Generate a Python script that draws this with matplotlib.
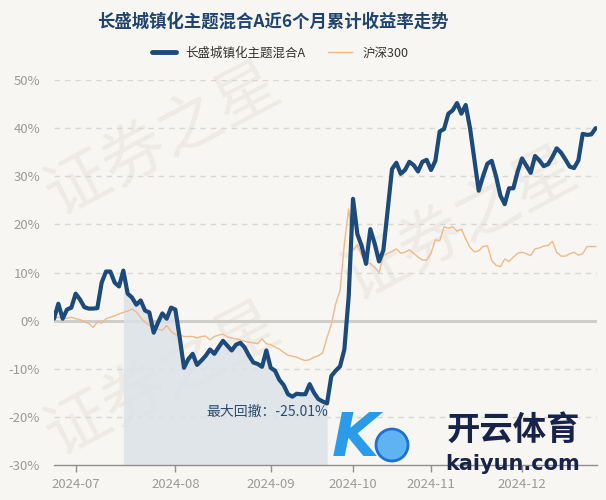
import matplotlib
matplotlib.use("Agg")
import matplotlib.pyplot as plt
import numpy as np
import pandas as pd
from matplotlib.patches import Circle

plt.rcParams['font.family'] = ['Noto Sans CJK SC', 'DejaVu Sans']

title = "长盛城镇化主题混合A近6个月累计收益率走势"
fund_name = "长盛城镇化主题混合A"
index_name = "沪深300"
drawdown_label = "最大回撤：-25.01%"
month_labels = ["2024-07", "2024-08", "2024-09", "2024-10", "2024-11", "2024-12"]
y_ticks = [-30, -20, -10, 0, 10, 20, 30, 40, 50]

holidays = ["2024-09-16", "2024-09-17", "2024-10-01", "2024-10-02", "2024-10-03",
            "2024-10-04", "2024-10-07"]

fund = [0.4, 3.5, 0.4, 2.3, 2.7, 5.6, 4.4, 2.8, 2.5, 2.5,
        2.6, 7.9, 10.2, 10.2, 7.9, 7.1, 10.4, 5.6, 4.8, 3.3,
        4.2, 2.1, 1.7, -2.5, -0.4, 1.5, 0.4, 2.7, 2.3, -3.5,
        -9.8, -8.0, -6.9, -9.2, -8.3, -7.3, -6.0, -6.9, -5.5, -4.2,
        -5.2, -6.2, -5.0, -4.6, -5.6, -7.3, -8.7, -9.0, -9.6, -6.2,
        -9.8, -10.4, -12.3, -13.4, -15.3, -15.8, -15.2, -15.3, -15.3, -13.2,
        -15.0, -16.3, -16.8, -17.2, -11.5, -10.4, -9.5, -6.0, 5.0, 25.3,
        18.0, 15.5, 11.8, 19.0, 16.0, 12.3, 14.6, 23.0, 31.5, 32.8,
        30.5, 31.3, 33.0, 32.3, 31.0, 33.0, 33.4, 31.3, 33.2, 39.3,
        39.8, 43.0, 43.7, 45.2, 43.0, 44.8, 40.0, 33.5, 27.0, 30.0,
        32.6, 33.2, 30.0, 26.0, 24.2, 27.5, 27.5, 31.0, 33.7, 32.2,
        30.7, 34.2, 33.3, 32.1, 32.5, 34.0, 35.8, 34.9, 33.5, 32.0,
        31.7, 33.3, 38.8, 38.6, 38.7, 40.0]

hs300 = [0.4, 0.7, 0.5, 0.5, 0.7, 0.4, 0.2, -0.2, -0.6, -1.4,
         -0.3, -0.5, 0.4, 0.7, 1.0, 1.4, 1.7, 2.0, 2.4, 1.8,
         0.6, -0.3, -1.0, -1.4, -1.8, -2.0, -1.0, -2.2, -2.9, -3.0,
         -3.3, -3.3, -3.3, -3.6, -3.3, -3.2, -4.0, -3.3, -3.0, -2.8,
         -3.4, -3.6, -3.8, -4.0, -4.3, -4.5, -4.6, -4.8, -3.8, -4.8,
         -5.0, -5.5, -5.9, -6.6, -7.2, -7.4, -7.6, -8.0, -8.3, -8.1,
         -7.6, -7.3, -6.7, -3.5, -0.8, 3.5, 6.2, 16.0, 23.2, 14.6,
         15.8, 13.5, 12.3, 11.8, 11.1, 10.0, 13.5, 14.0, 14.4, 14.9,
         14.0, 14.2, 14.7, 14.0, 13.2, 12.6, 12.6, 14.0, 16.8, 16.6,
         19.5, 19.2, 19.5, 18.6, 19.0, 17.0, 15.2, 14.3, 14.5, 15.4,
         15.6, 12.5, 11.5, 11.2, 12.8, 12.3, 13.2, 14.0, 14.2, 13.9,
         13.5, 14.9, 15.1, 15.5, 15.6, 16.5, 14.2, 13.4, 13.4, 13.9,
         14.2, 13.6, 13.9, 15.4, 15.4, 15.4]

dates = pd.bdate_range("2024-06-24", periods=len(fund), freq="C", holidays=holidays)
x = np.arange(len(fund))
fund_arr = np.array(fund)

trough = int(np.argmin(fund_arr))
peak = int(np.argmax(fund_arr[:trough + 1]))

BG = "#f8f6f2"
BLUE = "#1c4a7b"
ORANGE = "#f1b888"

fig = plt.figure(figsize=(6.06, 5.0), dpi=100, facecolor=BG)

# faint watermark in a background axes
bg_ax = fig.add_axes([0, 0, 1, 1], facecolor="none", zorder=0)
bg_ax.set_xlim(0, 1)
bg_ax.set_ylim(0, 1)
bg_ax.axis("off")
for (wx, wy) in [(0.27, 0.72), (0.27, 0.24), (0.76, 0.55)]:
    bg_ax.text(wx, wy, "证券之星", fontsize=46, color="#eeebe6", rotation=28,
               ha="center", va="center")

ax = fig.add_axes([54 / 606, 35 / 500, 543 / 606, 385 / 500], zorder=1)
ax.set_facecolor("none")
ax.set_xlim(0, 125.3)
ax.set_ylim(-30, 50)

for t in y_ticks:
    if t == 0:
        ax.axhline(t, color="#cfcdca", lw=2.2, zorder=1)
    elif t != -30:
        ax.axhline(t, color="#d9d7d3", lw=1.0, ls=(0, (4, 3.5)), zorder=1)

seg = slice(peak, trough + 1)
ax.fill_between(x[seg], fund_arr[seg], -30, color="#dce2e8", alpha=0.85, lw=0, zorder=1.5)

h_idx, = ax.plot(x, hs300, color=ORANGE, lw=1.0, zorder=2, label=index_name)
h_fund, = ax.plot(x, fund, color=BLUE, lw=3.0, zorder=3, label=fund_name,
                  solid_joinstyle="round", solid_capstyle="round")

ax.text(x[trough] + 0.3, -18.9, drawdown_label, ha="right", va="center",
        fontsize=10, color="#2a4b73", zorder=4)

for s in ["top", "right", "left"]:
    ax.spines[s].set_visible(False)
ax.spines["bottom"].set_color("#8f8f8f")
ax.spines["bottom"].set_linewidth(1.0)

ax.set_yticks(y_ticks)
ax.set_yticklabels([f"{t}%" for t in y_ticks])
ax.tick_params(axis="y", length=0, pad=10, labelsize=9.5, labelcolor="#9a9a9a")

month_starts = [i for i in range(1, len(dates)) if dates[i].month != dates[i - 1].month]
ax.set_xticks(month_starts)
ax.set_xticklabels(month_labels[:len(month_starts)])
ax.tick_params(axis="x", length=5, width=1, color="#8f8f8f", pad=4,
               labelsize=9.5, labelcolor="#9a9a9a")

fig.text(273 / 606, 1 - 22 / 500, title, ha="center", va="center",
         fontsize=12.5, fontweight="bold", color="#1f4470")
leg = fig.legend(handles=[h_fund, h_idx], loc="center", bbox_to_anchor=(280 / 606, 1 - 53 / 500),
                 ncol=2, frameon=False, fontsize=9, handlelength=1.9, columnspacing=1.8,
                 handletextpad=0.8)
for t in leg.get_texts():
    t.set_color("#333333")
leg.get_lines()[0].set_linewidth(3.5)

# overlay logo
logo_ax = fig.add_axes([0, 0, 1, 1], facecolor="none", zorder=5)
logo_ax.set_xlim(0, 606)
logo_ax.set_ylim(500, 0)
logo_ax.axis("off")
logo_ax.text(355, 440, "K", fontsize=44, fontstyle="italic", fontweight="bold",
             color="#2a9be8", ha="center", va="center", family="DejaVu Sans")
logo_ax.add_patch(Circle((392, 445), 16, facecolor="#5fb3f0", edgecolor="#1e6fd6", lw=2))
logo_ax.text(513, 430, "开云体育", fontsize=24, fontweight="bold", color="#17234a",
             ha="center", va="center")
logo_ax.text(513, 464, "kaiyun.com", fontsize=15, fontweight="bold", color="#17234a",
             ha="center", va="center", family="DejaVu Sans")

fig.savefig("out.png", dpi=100, facecolor=BG)
